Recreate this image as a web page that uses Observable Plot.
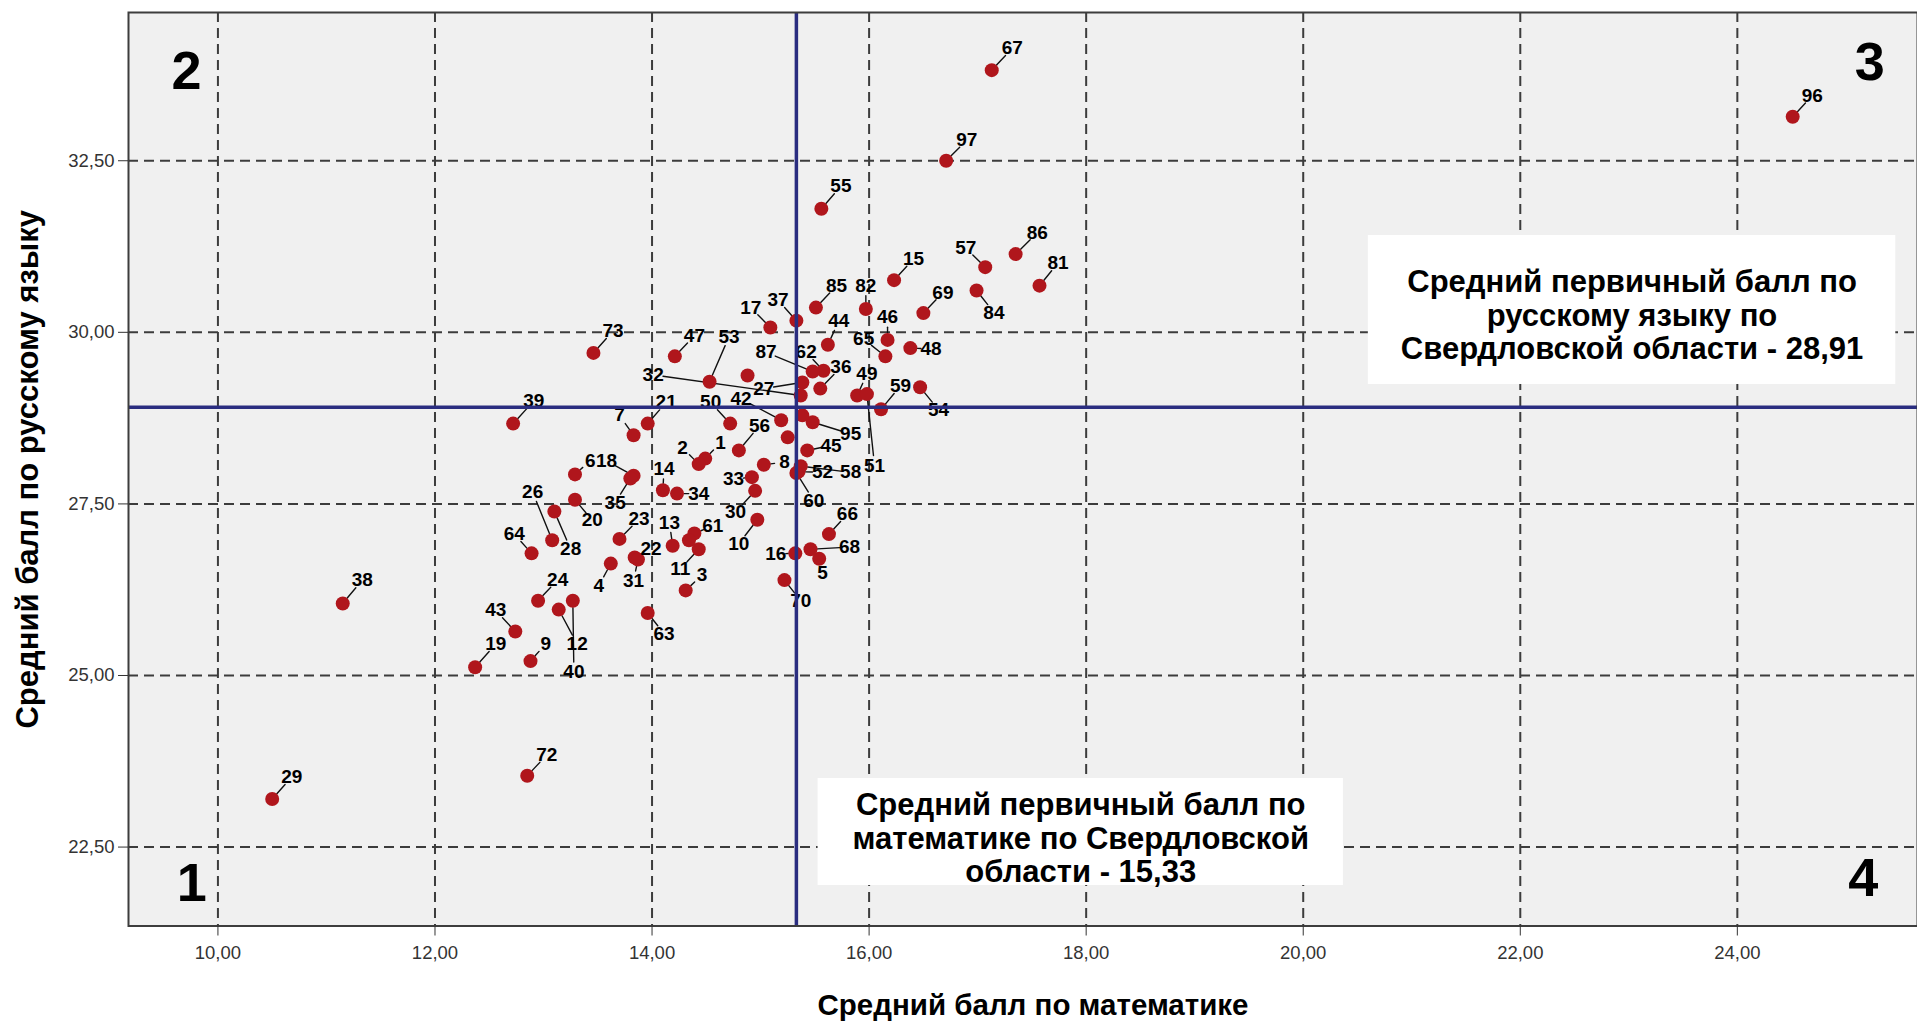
<!DOCTYPE html>
<html><head><meta charset="utf-8">
<script src="https://cdn.jsdelivr.net/npm/d3@7"></script>
<script src="https://cdn.jsdelivr.net/npm/@observablehq/plot@0.6"></script>
<style>
html,body{margin:0;padding:0;background:#fff;}
#chart svg{display:block;}
</style></head><body><div id="chart"></div>
<script>
// Region ids and average scores
const ids = [1,2,3,4,5,6,7,8,9,10,11,12,13,14,15,16,17,18,19,20,21,22,23,24,26,27,28,29,30,31,32,33,34,35,36,37,38,39,40,42,43,44,45,46,47,48,49,50,51,52,53,54,55,56,57,58,59,60,61,62,63,64,65,66,67,68,69,70,72,73,81,82,84,85,86,87,95,96,97];
const math = [14.49,14.43,14.31,13.62,15.54,13.29,13.83,15.03,12.88,14.97,14.43,13.14,14.19,14.10,16.23,15.32,15.09,13.83,12.37,13.29,13.96,13.84,13.70,12.95,13.08,15.385,13.10,10.50,14.95,13.87,15.37,14.92,14.23,13.80,15.55,15.33,11.15,12.72,13.27,15.19,12.74,15.62,15.43,16.17,14.21,16.38,15.89,14.72,15.98,15.35,14.53,16.47,15.56,14.80,17.07,15.37,16.11,15.33,14.39,15.58,13.96,12.89,16.15,15.63,17.13,15.46,16.50,15.22,12.85,13.46,17.57,15.97,16.99,15.51,17.35,15.48,15.48,24.51,16.71];
const rus = [28.16,28.08,26.24,26.63,26.70,27.93,28.50,28.07,25.21,27.27,26.84,25.96,26.89,27.70,30.76,26.78,30.07,27.91,25.12,27.56,28.67,26.72,26.99,26.09,26.97,29.27,27.39,23.20,27.69,26.69,29.08,27.89,27.65,27.87,29.18,30.17,26.05,28.67,26.09,28.72,25.64,29.82,28.28,29.89,29.65,29.77,29.08,28.67,29.10,27.97,29.28,29.20,31.80,28.28,30.95,28.05,28.88,27.95,27.07,29.44,25.91,26.78,29.65,27.06,33.82,26.84,30.28,26.39,23.54,29.70,30.68,30.34,30.61,30.36,31.14,29.43,28.69,33.14,32.50];
// where each id label sits (in data units)
const labelMath = [14.63,14.28,14.46,13.51,15.57,13.43,13.70,15.22,13.02,14.80,14.26,13.31,14.16,14.11,16.41,15.14,14.91,13.58,12.56,13.45,14.13,13.99,13.88,13.13,12.90,15.03,13.25,10.68,14.77,13.83,14.01,14.75,14.43,13.66,15.74,15.16,11.33,12.91,13.28,14.82,12.56,15.72,15.65,16.17,14.39,16.57,15.98,14.54,16.05,15.57,14.71,16.64,15.74,14.99,16.89,15.83,16.29,15.49,14.56,15.42,14.11,12.73,15.95,15.80,17.32,15.82,16.68,15.37,13.03,13.64,17.74,15.97,17.15,15.70,17.55,15.05,15.83,24.69,16.90];
const labelRus = [28.39,28.32,26.46,26.31,26.50,28.13,28.79,28.11,25.46,26.92,26.55,25.46,27.23,28.01,31.07,26.77,30.36,28.13,25.46,27.26,28.98,26.84,27.28,26.39,27.67,29.18,26.84,23.52,27.38,26.38,29.38,27.86,27.65,27.52,29.49,30.47,26.39,29.00,25.05,29.03,25.95,30.16,28.35,30.22,29.95,29.76,29.39,28.98,28.06,27.96,29.94,28.87,32.13,28.64,31.23,27.96,29.22,27.55,27.18,29.71,25.61,27.06,29.90,27.35,34.14,26.87,30.58,26.09,23.84,30.02,31.01,30.68,30.29,30.68,31.45,29.71,28.52,33.45,32.80];
// points whose labels are hidden under others
const extraMath = [14.88,15.25,15.385,14.34];
const extraRus = [29.37,28.47,28.79,26.97];

const meanMath = 15.33;
const meanRus = 28.91;
const mathTicks = [10,12,14,16,18,20,22,24];
const rusTicks = [22.5,25,27.5,30,32.5];
const xTitle = "Средний балл по математике";
const yTitle = "Средний балл по русскому языку";

const noteTexts = ["Средний первичный балл по\nрусскому языку по\nСвердловской области - 28,91",
                   "Средний первичный балл по\nматематике по Свердловской\nобласти - 15,33"];
const noteMath1 = [20.60, 15.53];
const noteMath2 = [25.46, 20.37];
const noteRus1 = [29.24, 21.94];
const noteRus2 = [31.41, 23.50];
const noteCenterRus = [30.25, 22.63];

const quadLabels = ["1","2","3","4"];
const quadMath = [9.76, 9.71, 25.22, 25.16];
const quadRus = [21.96, 33.79, 33.93, 22.04];

const points = ids.map((id, i) => ({id, math: math[i], rus: rus[i], lx: labelMath[i], ly: labelRus[i]}));
const extras = extraMath.map((m, i) => ({math: m, rus: extraRus[i]}));
const notes = noteTexts.map((t, i) => ({text: t, x1: noteMath1[i], x2: noteMath2[i], y1: noteRus1[i], y2: noteRus2[i],
  cx: (noteMath1[i] + noteMath2[i]) / 2, cy: noteCenterRus[i]}));
const comma = d => d.toFixed(2).replace(".", ",");
const sans = '"Liberation Sans", Arial, sans-serif';
const dotColor = "#b0161c";
const refColor = "#2a2d80";

const chart = Plot.plot({
  width: 1917, height: 1021,
  marginLeft: 128, marginRight: 0, marginTop: 12, marginBottom: 95.5,
  x: {domain: [9.176, 25.66]},
  y: {domain: [21.35, 34.66]},
  style: {fontFamily: sans, background: "#fff", overflow: "visible"},
  marks: [
    Plot.frame({fill: "#f0f0f0", stroke: null}),
    Plot.gridX(mathTicks, {stroke: "#3c3c3c", strokeOpacity: 1, strokeWidth: 2, strokeDasharray: "10,6"}),
    Plot.gridY(rusTicks, {stroke: "#3c3c3c", strokeOpacity: 1, strokeWidth: 2, strokeDasharray: "10,6"}),
    Plot.rect(notes, {x1: "x1", x2: "x2", y1: "y1", y2: "y2", fill: "#fff"}),
    Plot.arrow(points, {x1: "math", y1: "rus", x2: "lx", y2: "ly", headLength: 0, insetStart: 7, insetEnd: 10, stroke: "#111", strokeWidth: 1.4}),
    Plot.dot(points, {x: "math", y: "rus", r: 7, fill: dotColor}),
    Plot.dot(extras, {x: "math", y: "rus", r: 7, fill: dotColor}),
    Plot.text(points, {x: "lx", y: "ly", text: d => String(d.id), fontWeight: "bold", fontSize: 19, fill: "#000"}),
    Plot.ruleX([meanMath], {stroke: refColor, strokeWidth: 3.5}),
    Plot.ruleY([meanRus], {stroke: refColor, strokeWidth: 3.5}),
    Plot.text(notes, {x: "cx", y: "cy", text: "text", fontSize: 31, fontWeight: "bold", lineHeight: 1.08, fill: "#000", lineAnchor: "middle"}),
    Plot.text(quadLabels, {x: quadMath, y: quadRus, text: d => d, fontSize: 54, fontWeight: "bold", fill: "#000"}),
    Plot.frame({stroke: "#3d3d3d", strokeWidth: 2}),
    Plot.axisX(mathTicks, {tickFormat: comma, tickSize: 10, tickPadding: 10, fontSize: 18.5, color: "#333", label: null}),
    Plot.axisY(rusTicks, {tickFormat: comma, tickSize: 10, tickPadding: 4, fontSize: 18.5, color: "#333", label: null}),
    Plot.text([xTitle], {frameAnchor: "bottom", dy: 80, dx: 10, lineAnchor: "middle", textAnchor: "middle", fontSize: 29.5, fontWeight: "bold", fill: "#000"}),
    Plot.text([yTitle], {frameAnchor: "left", rotate: -90, dx: -100, lineAnchor: "middle", textAnchor: "middle", fontSize: 31, fontWeight: "bold", fill: "#000"})
  ]
});
document.getElementById("chart").appendChild(chart);
</script></body></html>
